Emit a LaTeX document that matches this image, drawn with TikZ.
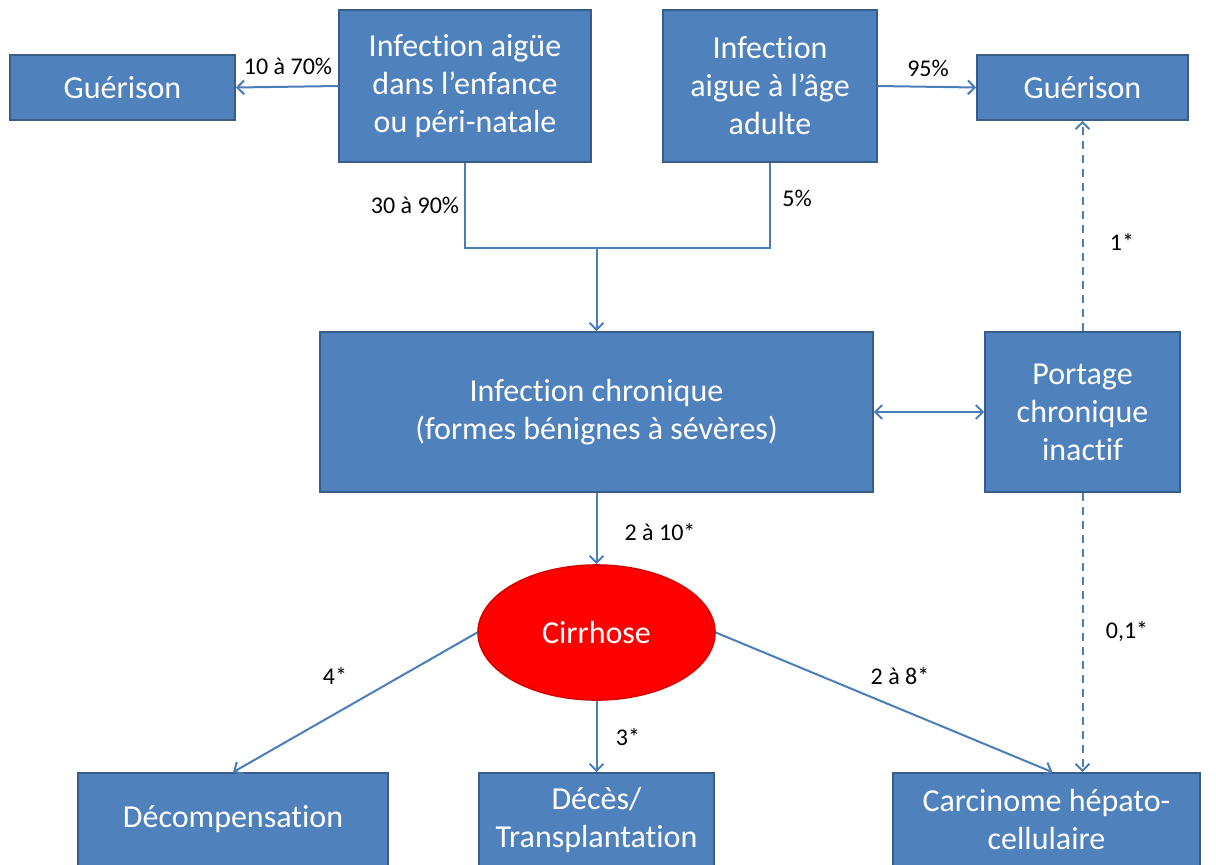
\documentclass[tikz,border=0pt]{standalone}
\usepackage{fontspec}
\setmainfont[Ligatures=NoCommon]{Carlito}
\usepackage{tikz}
\usetikzlibrary{arrows.meta, shapes.geometric}
\definecolor{boxblue}{HTML}{4F81BD}
\definecolor{boxline}{HTML}{385D8A}
\definecolor{linkblue}{HTML}{4A7EBB}

\begin{document}
\begin{tikzpicture}[x=0.5pt,y=0.5pt,yscale=-1,xscale=1,
  bluebox/.style={draw=boxline, line width=0.8pt, fill=boxblue, text=white, align=center, inner sep=0pt, font=\fontsize{16}{19}\selectfont},
  lnk/.style={draw=linkblue, line width=1pt, -{Straight Barb[length=3.5pt,width=7pt]}},
  lbl/.style={font=\fontsize{12}{14}\selectfont, text=black}]
\useasboundingbox (0,0) rectangle (1216,864);

%Shape: Rectangle [guerL]
\node[bluebox, minimum width=112.5pt, minimum height=32.5pt] (guerL) at (122.5,87.5) {Guérison};
%Shape: Rectangle [enfance]
\node[bluebox, minimum width=126pt, minimum height=76pt] (enfance) at (465,86) {Infection aigüe\\dans l’enfance\\ou péri-natale};
%Shape: Rectangle [adulte]
\node[bluebox, minimum width=107pt, minimum height=76pt] (adulte) at (770,86) {Infection\\aigue à l’âge\\adulte};
%Shape: Rectangle [guerR]
\node[bluebox, minimum width=105.5pt, minimum height=32.5pt] (guerR) at (1082.5,87.5) {Guérison};
%Shape: Rectangle [chron]
\node[bluebox, minimum width=276.5pt, minimum height=80pt] (chron) at (596.5,412) {Infection chronique\\(formes bénignes à sévères)};
%Shape: Rectangle [portage]
\node[bluebox, minimum width=97.5pt, minimum height=80pt] (portage) at (1082.5,412) {Portage\\chronique\\inactif};
%Shape: Ellipse [cirr]
\node[bluebox, ellipse, draw=red!85!black, fill=red, minimum width=118.5pt, minimum height=67.5pt] (cirr) at (596.5,632.5) {Cirrhose};
%Shape: Rectangle [decomp]
\node[bluebox, minimum width=155pt, minimum height=46.5pt] (decomp) at (233,819.5) {Décompensation};
%Shape: Rectangle [deces]
\node[bluebox, minimum width=117.5pt, minimum height=46.5pt] (deces) at (596.5,819.5) {Décès/\\Transplantation};
%Shape: Rectangle [carci]
\node[bluebox, minimum width=153.5pt, minimum height=46.5pt] (carci) at (1046.5,819.5) {Carcinome hépato-\\cellulaire};

%Straight Lines
\draw[lnk] (enfance.west) -- (guerL.east);
\draw[lnk] (adulte.east) -- (guerR.west);
\coordinate (join) at (596.5,248);
\draw[draw=linkblue, line width=1pt] (enfance.south) |- (join) -| (adulte.south);
\draw[lnk] (join) -- (chron.north);
\draw[lnk, {Straight Barb[length=3.5pt,width=7pt]}-{Straight Barb[length=3.5pt,width=7pt]}] (chron.east) -- (portage.west);
\draw[lnk, dash pattern={on 4pt off 3pt}] (portage.north) -- (guerR.south);
\draw[lnk, dash pattern={on 4pt off 3pt}] (portage.south) -- (portage.south |- carci.north);
\draw[lnk] (chron.south) -- (cirr.north);
\draw[lnk] (cirr.west) -- (decomp.north);
\draw[lnk] (cirr.south) -- (deces.north);
\draw[lnk] (cirr.east) -- ([xshift=3pt]carci.north);

% Text Node
\node[lbl] (t1) at (288,66) {10 à 70\%};
\node[lbl] (t2) at (928,68) {95\%};
\node[lbl] (t3) at (415,205) {30 à 90\%};
\node[lbl] (t4) at (797,198) {5\%};
\node[lbl] (t5) at (1122,242) {1*};
\node[lbl] (t6) at (660,532) {2 à 10*};
\node[lbl] (t7) at (1127,632) {0,1*};
\node[lbl] (t8) at (335,676) {4*};
\node[lbl] (t9) at (900,676) {2 à 8*};
\node[lbl] (t10) at (628,737) {3*};

\end{tikzpicture}
\end{document}
